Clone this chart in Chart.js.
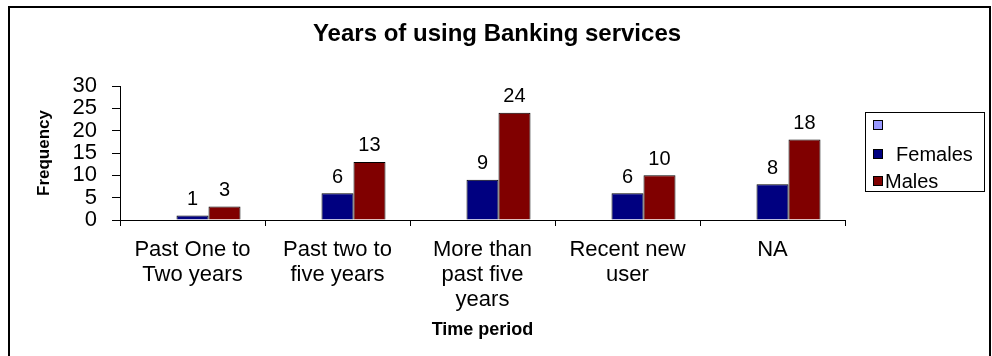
<!DOCTYPE html>
<html>
<head>
<meta charset="utf-8">
<script src="https://cdn.jsdelivr.net/npm/chart.js@4"></script>
<style>
  html, body { margin: 0; padding: 0; background: #fff; }
  #wrap { width: 992px; height: 356px; }
</style>
</head>
<body>
<div id="wrap"><canvas id="bankChart" width="992" height="356"></canvas></div>
<script>
// data
const chartTitle = 'Years of using Banking services';
const categories = [
    ['Past One to', 'Two years'],
    ['Past two to', 'five years'],
    ['More than', 'past five', 'years'],
    ['Recent new', 'user'],
    ['NA']
];
const blankValues = [null, null, null, null, null];
const femaleValues = [1, 6, 9, 6, 8];
const maleValues = [3, 13, 24, 10, 18];
const yTicks = [0, 5, 10, 15, 20, 25, 30];

const FONT = '"Liberation Sans", Arial, sans-serif';
Chart.defaults.color = '#000';
Chart.defaults.font.family = FONT;

// outer frame + title
const framePlugin = {
    id: 'frame',
    beforeDraw(chart) {
        const c = chart.ctx;
        c.save();
        c.fillStyle = '#fff';
        c.fillRect(0, 0, chart.width, chart.height);
        c.strokeStyle = '#000';
        c.lineWidth = 2;
        c.beginPath();
        c.moveTo(9, 360);
        c.lineTo(9, 7);
        c.lineTo(990, 7);
        c.lineTo(990, 360);
        c.stroke();
        c.font = 'bold 24px ' + FONT;
        c.textAlign = 'center';
        c.textBaseline = 'middle';
        c.fillStyle = '#000';
        c.fillText(chartTitle, 497, 34);
        c.restore();
    }
};

// value labels above bars
const valueLabels = {
    id: 'valueLabels',
    afterDatasetsDraw(chart) {
        const c = chart.ctx;
        c.save();
        c.font = '20px ' + FONT;
        c.fillStyle = '#000';
        c.textAlign = 'center';
        c.textBaseline = 'middle';
        chart.data.datasets.forEach((ds, i) => {
            chart.getDatasetMeta(i).data.forEach((bar, j) => {
                const v = ds.data[j];
                if (v === null || v === undefined) return;
                c.fillText(String(v), bar.x, bar.y - 16);
            });
        });
        c.restore();
    }
};

// boxed legend on the right
const boxLegend = {
    id: 'boxLegend',
    afterDraw(chart) {
        const c = chart.ctx;
        c.save();
        c.strokeStyle = '#000';
        c.lineWidth = 1;
        c.strokeRect(865.5, 112.5, 119, 79);
        c.font = '20px ' + FONT;
        c.textBaseline = 'middle';
        c.textAlign = 'left';
        const rows = [125, 154, 181];
        chart.data.datasets.forEach((ds, i) => {
            const y = rows[i];
            c.fillStyle = ds.backgroundColor;
            c.fillRect(873, y - 5, 10, 10);
            c.strokeRect(873.5, y - 4.5, 9, 9);
            c.fillStyle = '#000';
            c.fillText(ds.label, 885, y + 1);
        });
        c.restore();
    }
};

const ctx = document.getElementById('bankChart').getContext('2d');
const bankChart = new Chart(ctx, {
    type: 'bar',
    data: {
        labels: categories,
        datasets: [
            {
                label: '',
                data: blankValues,
                backgroundColor: '#9999ff',
                borderColor: '#000',
                borderWidth: 1
            },
            {
                label: '  Females',
                data: femaleValues,
                backgroundColor: '#000080',
                borderColor: '#000',
                borderWidth: 1
            },
            {
                label: 'Males',
                data: maleValues,
                backgroundColor: '#800000',
                borderColor: '#000',
                borderWidth: 1
            }
        ]
    },
    options: {
        responsive: false,
        animation: false,
        events: [],
        layout: { padding: { left: 0, top: 86, right: 147, bottom: 0 } },
        categoryPercentage: 0.662,
        barPercentage: 1.0,
        plugins: {
            legend: { display: false },
            title: { display: false },
            tooltip: { enabled: false }
        },
        scales: {
            x: {
                grid: { drawOnChartArea: false, offset: true, tickLength: 6, color: '#000' },
                border: { color: '#000', width: 1 },
                ticks: { font: { size: 22, lineHeight: 25 / 22 }, padding: 11, maxRotation: 0, autoSkip: false },
                title: {
                    display: true,
                    text: 'Time period',
                    font: { size: 18, weight: 'bold' },
                    padding: { top: 4, bottom: 15 }
                },
                afterFit(scale) { scale.height = 136; }
            },
            y: {
                min: 0,
                max: 30,
                afterBuildTicks(scale) { scale.ticks = yTicks.map(v => ({ value: v })); },
                grid: { drawOnChartArea: false, tickLength: 8, color: '#000' },
                border: { color: '#000', width: 1 },
                ticks: { font: { size: 22, lineHeight: 1 }, padding: 15, autoSkip: false },
                title: {
                    display: true,
                    text: 'Frequency',
                    font: { size: 17, weight: 'bold' },
                    padding: { top: 34, bottom: 0 }
                },
                afterFit(scale) { scale.width = 120; }
            }
        }
    },
    plugins: [framePlugin, valueLabels, boxLegend]
});
</script>
</body>
</html>
